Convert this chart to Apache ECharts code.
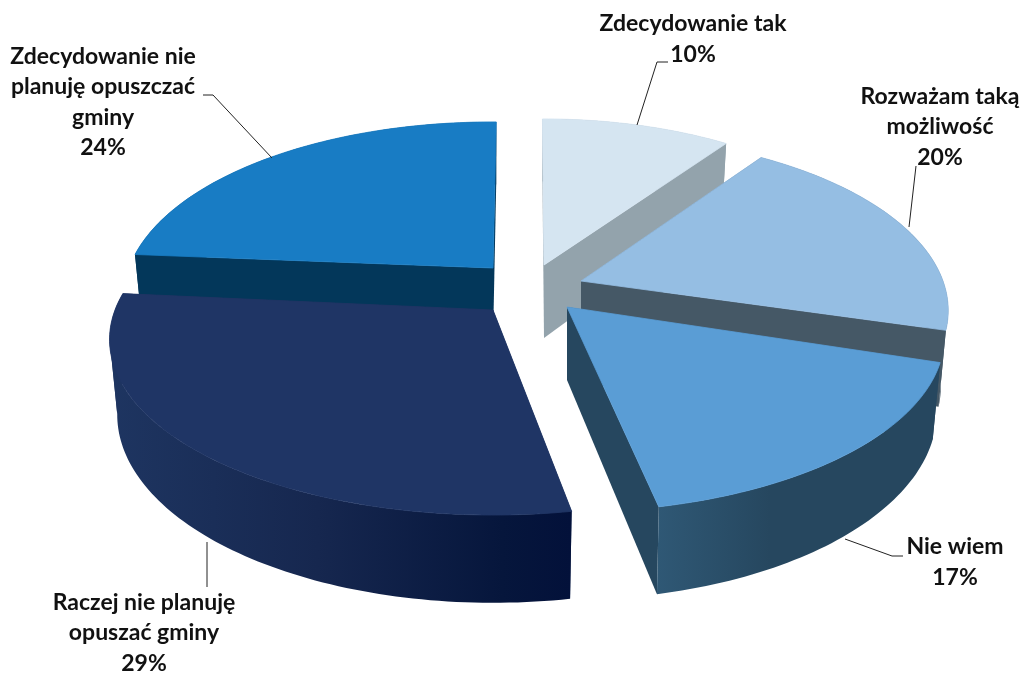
<!DOCTYPE html>
<html>
<head>
<meta charset="utf-8">
<style>
    html, body { margin: 0; padding: 0; background: #fff; }
    #main { width: 1023px; height: 673px; }
</style>
<script src="https://cdn.jsdelivr.net/npm/echarts@6/dist/echarts.min.js"></script>
</head>
<body>
<div id="main"></div>
<script>
// data, clockwise from 12 o'clock
var categories = ['Zdecydowanie tak', 'Rozważam taką\nmożliwość', 'Nie wiem', 'Raczej nie planuję\nopuszać gminy', 'Zdecydowanie nie\nplanuję opuszczać\ngminy']
var percents = [10, 20, 17, 29, 24]

// colours per slice
var topColors = ['#d5e5f1', '#95bee3', '#5a9dd5', '#1f3565', '#187cc4']
var edgeColors = ['#93a3ac', '#455866', '#26475f', '#1d3159', '#03375a']
var wallStops = [
    [[0, '#93a3ac'], [1, '#93a3ac']],
    [[0, '#455866'], [1, '#3f515f']],
    [[0, '#2f5875'], [0.4, '#26475f'], [1, '#26475f']],
    [[0, '#1e3561'], [0.45, '#16274f'], [0.85, '#06163c'], [1, '#03113a']],
    [[0, '#03375a'], [1, '#03375a']]
]

// exploded slice: apex x, apex y, radius
var sliceX = [544, 581, 567, 493, 493]
var sliceY = [265, 281, 307, 310, 268]
var sliceR = [352, 362, 372, 378, 364]
// small correction of the slice edges in degrees (start, end)
var edgeNudge = [[-0.3, 0], [-1.5, -2], [0, -1.1], [0.8, 2], [1, 0.6]]
// paint order, back to front
var paintOrder = [0, 4, 1, 3, 2]
// slices whose curved wall faces the viewer
var frontWall = [false, false, true, true, false]

// label centres and leader lines
var labelX = [693, 940, 955, 144, 103]
var labelY = [39, 127, 562, 633, 102]
var leaders = [
    [[668, 62], [657, 62], [637, 125]],
    [[916, 166], [909, 227]],
    [[903, 556], [892, 556], [845, 539]],
    [[207, 587], [207, 542]],
    [[203, 95], [213, 95], [272, 158]]
]

var PERSP = 0.168
var RY = 170.6
var DEPTH = 73
var BOTTOM_SHRINK = 0.02
// left silhouette angle of the projected ellipse
var FOLD = Math.PI * 2 - Math.acos(-PERSP)

function project(i, theta, h) {
    var u = Math.sin(theta), v = -Math.cos(theta), w = 1 - PERSP * v
    return [
        sliceX[i] + sliceR[i] * (1 - h * BOTTOM_SHRINK) * u / w,
        sliceY[i] + (RY * v + h * DEPTH) / w
    ]
}

function arcPoints(i, a0, a1, h) {
    var pts = [], n = Math.ceil(Math.abs(a1 - a0) / 0.02)
    for (var k = 0; k <= n; k++) {
        pts.push(project(i, a0 + (a1 - a0) * k / n, h))
    }
    return pts
}

var total = percents.reduce(function (a, b) { return a + b }, 0)

function renderSlice(params, api) {
    var i = params.dataIndex
    var before = 0
    for (var j = 0; j < i; j++) before += percents[j]
    var a0 = (before / total * 360 + edgeNudge[i][0]) * Math.PI / 180
    var a1 = ((before + api.value(0)) / total * 360 + edgeNudge[i][1]) * Math.PI / 180
    var rank = paintOrder.indexOf(i) * 10
    var apex0 = [sliceX[i], sliceY[i]]
    var apex1 = [sliceX[i], sliceY[i] + DEPTH]

    var poly = function (points, fill, z2, lineWidth) {
        return {
            type: 'polygon',
            z2: z2,
            shape: { points: points },
            style: { fill: fill, stroke: fill, lineWidth: lineWidth }
        }
    }
    var children = []
    // curved wall, split where the band folds over at the silhouette.
    // painted over the radial walls only when it faces front
    var upper = arcPoints(i, a0, a1, 0), lower = arcPoints(i, a0, a1, 1)
    var xs = upper.concat(lower).map(function (p) { return p[0] })
    var wallFill = new echarts.graphic.LinearGradient(Math.min.apply(null, xs), 0, Math.max.apply(null, xs), 0, wallStops[i].map(function (s) {
        return { offset: s[0], color: s[1] }
    }), true)
    var wallZ = rank + (frontWall[i] ? 1 : 0)
    var parts = (a0 < FOLD && FOLD < a1) ? [[a0, FOLD + 0.005], [FOLD, a1]] : [[a0, a1]]
    parts.forEach(function (part) {
        var band = arcPoints(i, part[0], part[1], 0).concat(arcPoints(i, part[1], part[0], 1))
        children.push(poly(band, wallFill, wallZ, 0))
    })
    // radial walls
    var p0 = project(i, a0, 0), q0 = project(i, a0, 1)
    var p1 = project(i, a1, 0), q1 = project(i, a1, 1)
    var radialZ = rank + (frontWall[i] ? 0 : 1)
    children.push(poly([apex0, p0, q0, apex1], edgeColors[i], radialZ, 0))
    children.push(poly([apex0, p1, q1, apex1], edgeColors[i], radialZ, 0))
    // top face
    children.push(poly([apex0].concat(upper), topColors[i], rank + 2, 0.8))
    // leader line + label stay above all the slices
    children.push({
        type: 'polyline',
        z2: 100,
        shape: { points: leaders[i] },
        style: { fill: null, stroke: '#222', lineWidth: 1 }
    })
    children.push({
        type: 'text',
        z2: 101,
        x: labelX[i],
        y: labelY[i],
        style: {
            text: categories[i] + '\n' + api.value(0) + '%',
            fontFamily: 'Lato',
            fontSize: 23,
            fontWeight: 'bold',
            lineHeight: 30.3,
            fill: '#111',
            align: 'center',
            verticalAlign: 'middle'
        }
    })
    return { type: 'group', children: children }
}

var chart = echarts.init(document.getElementById('main'), null, { renderer: 'canvas' })
chart.setOption({
    animation: false,
    backgroundColor: '#fff',
    series: [{
        type: 'custom',
        coordinateSystem: 'none',
        silent: true,
        data: percents.map(function (p) { return [p] }),
        renderItem: renderSlice
    }]
})
</script>
</body>
</html>
